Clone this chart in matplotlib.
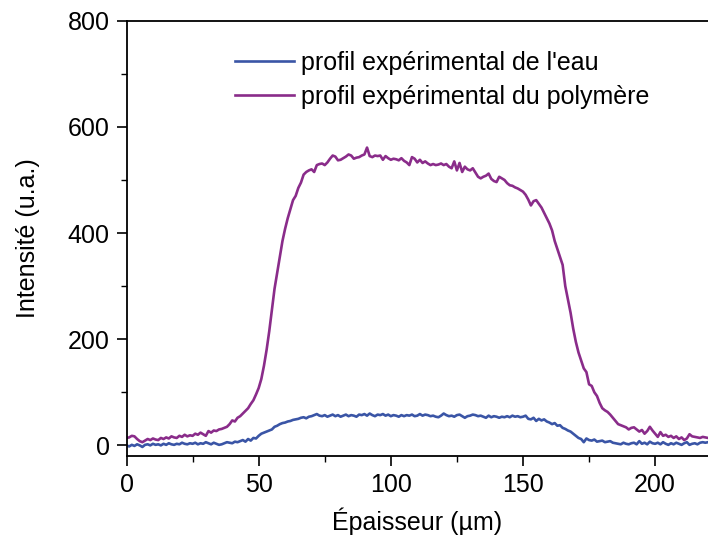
import matplotlib
matplotlib.use("Agg")
import matplotlib.pyplot as plt
import numpy as np

plt.rcParams['font.family'] = ['Liberation Sans', 'DejaVu Sans']

# thickness positions (µm), 1 µm step
epaisseur = list(range(0, 221))

eau = [0, -2, 1, -1, 2, 0, -3, 1, 2, 0, 3, 1, 2, 0, 3, 1, 4, 2, 1, 3,
       2, 5, 3, 2, 4, 3, 5, 2, 4, 3, 6, 4, 2, 5, 3, 1, 2, 4, 6, 5,
       4, 7, 6, 8, 10, 7, 12, 9, 14, 13, 18, 22, 24, 26, 28, 30, 35, 37, 40, 42,
       43, 45, 46, 48, 49, 50, 52, 53, 51, 54, 55, 57, 59, 56, 55, 57, 54, 56, 58, 55,
       57, 54, 56, 58, 55, 57, 56, 54, 58, 57, 59, 56, 60, 57, 55, 58, 57, 59, 56, 58,
       55, 57, 56, 54, 57, 55, 57, 56, 58, 55, 56, 59, 56, 58, 57, 55, 56, 54, 53, 56,
       60, 57, 55, 56, 54, 57, 58, 55, 52, 55, 56, 58, 57, 55, 56, 54, 52, 56, 53, 55,
       54, 52, 54, 53, 55, 53, 56, 54, 55, 53, 54, 56, 50, 49, 52, 46, 50, 47, 49, 45,
       43, 40, 42, 37, 38, 33, 31, 28, 26, 22, 18, 14, 12, 6, 13, 10, 9, 11, 7, 8,
       9, 6, 7, 8, 5, 4, 3, 2, 5, 3, 2, 4, 5, 2, 8, 3, 5, 2, 7, 4,
       3, 5, 2, 6, 3, 1, 4, 2, 5, 3, 1, 4, 6, 1, 3, 4, 2, 5, 6, 5,
       6]

polymere = [14, 15, 18, 17, 12, 8, 6, 9, 12, 10, 13, 11, 10, 14, 12, 15, 13, 17, 15, 14,
            18, 16, 20, 17, 19, 18, 22, 20, 24, 21, 18, 27, 24, 28, 27, 30, 31, 33, 35, 40,
            47, 45, 52, 55, 60, 65, 70, 78, 85, 96, 108, 125, 150, 180, 215, 255, 295, 325, 355, 385,
            408, 428, 445, 462, 470, 485, 495, 510, 515, 518, 520, 515, 528, 530, 531, 528, 533, 540, 546, 544,
            537, 538, 541, 544, 548, 546, 540, 542, 543, 546, 548, 561, 545, 543, 546, 545, 546, 538, 545, 541,
            538, 540, 539, 537, 541, 536, 533, 528, 543, 540, 533, 538, 532, 535, 531, 528, 530, 528, 529, 531,
            528, 530, 525, 522, 535, 518, 532, 515, 525, 520, 518, 522, 514, 506, 503, 506, 508, 512, 502, 498,
            496, 506, 503, 500, 494, 490, 489, 486, 484, 481, 478, 472, 463, 452, 460, 462, 455, 448, 438, 428,
            418, 405, 385, 370, 355, 340, 300, 275, 250, 220, 195, 175, 160, 145, 138, 115, 112, 100, 93, 80,
            70, 66, 63, 58, 52, 46, 40, 38, 36, 34, 30, 33, 34, 30, 26, 29, 22, 27, 35, 28,
            22, 16, 25, 18, 20, 16, 18, 14, 17, 12, 15, 10, 13, 21, 17, 16, 15, 14, 16, 15,
            14]

labels = ["profil expérimental de l'eau", "profil expérimental du polymère"]
colors = ['#3a55a6', '#8a2c8a']

fig = plt.figure(figsize=(7.08, 5.39), dpi=100)
ax = fig.add_axes([0.1787, 0.154, 1.0 - 0.1787, 0.9616 - 0.154])

ax.plot(epaisseur, eau, color=colors[0], lw=1.9, label=labels[0])
ax.plot(epaisseur, polymere, color=colors[1], lw=1.9, label=labels[1])

ax.set_xlim(0, 220)
ax.set_ylim(-20, 800)
ax.set_xticks([0, 50, 100, 150, 200])
ax.set_xticks([25, 75, 125, 175], minor=True)
ax.set_yticks([0, 200, 400, 600, 800])
ax.set_yticks([100, 300, 500, 700], minor=True)
ax.tick_params(which='major', direction='out', length=7, width=1.2, labelsize=18, pad=5)
ax.tick_params(which='minor', direction='out', length=4, width=1.0)
ax.spines['right'].set_visible(False)
for s in ['left', 'bottom', 'top']:
    ax.spines[s].set_linewidth(1.3)

ax.set_xlabel('Épaisseur (µm)', fontsize=18, labelpad=8)
ax.set_ylabel('Intensité (u.a.)', fontsize=18, labelpad=20)

ax.legend(loc='upper left', bbox_to_anchor=(0.186, 0.931), frameon=False,
          fontsize=18, handlelength=2.36, handletextpad=0.28, labelspacing=0.4,
          borderpad=0, borderaxespad=0)

fig.savefig('out.png', dpi=100)
